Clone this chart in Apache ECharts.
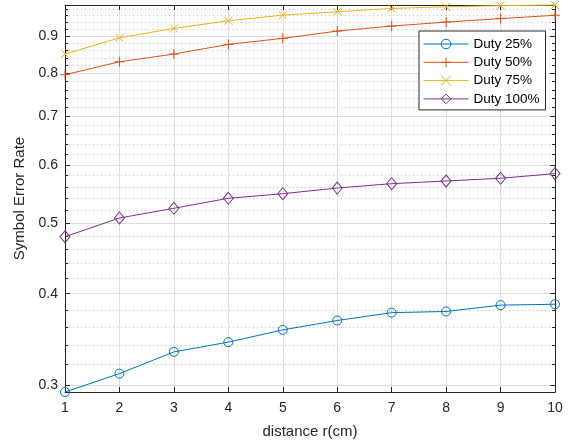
<!DOCTYPE html>
<html><head><meta charset="utf-8">
<script src="https://cdn.jsdelivr.net/npm/echarts@6/dist/echarts.min.js"></script>
<style>html,body{margin:0;padding:0;background:#fff}#c{width:571px;height:445px}</style>
</head><body><div id="c"></div>
<script>
const distances = [1, 2, 3, 4, 5, 6, 7, 8, 9, 10];
const duty25 = [0.2936, 0.3111, 0.3331, 0.3435, 0.3570, 0.3677, 0.3769, 0.3783, 0.3859, 0.3870];
const duty50 = [0.7970, 0.8301, 0.8505, 0.8768, 0.8935, 0.9143, 0.9288, 0.9405, 0.9509, 0.9609];
const duty75 = [0.8505, 0.8952, 0.9221, 0.9444, 0.9614, 0.9715, 0.9819, 0.9869, 0.9905, 0.9925];
const duty100 = [0.4786, 0.5077, 0.5234, 0.5402, 0.5480, 0.5579, 0.5656, 0.5704, 0.5753, 0.5838];
const seriesNames = ['Duty 25%', 'Duty 50%', 'Duty 75%', 'Duty 100%'];
const xTicks = [1, 2, 3, 4, 5, 6, 7, 8, 9, 10];
const yMajorTicks = [0.3, 0.4, 0.5, 0.6, 0.7, 0.8, 0.9];
const yMinorTicks = [0.32, 0.34, 0.36, 0.38, 0.42, 0.44, 0.46, 0.48, 0.52, 0.54, 0.56, 0.58,
  0.62, 0.64, 0.66, 0.68, 0.72, 0.74, 0.76, 0.78, 0.82, 0.84, 0.86, 0.88, 0.92, 0.94, 0.96, 0.98];
const yLimits = [0.2936, 0.9925];

const FONT = 'Liberation Sans, Arial, Helvetica, sans-serif';
const AX = '#262626';
const colors = ['#0072BD', '#D95319', '#EDB120', '#7E2F8E'];
const symbols = ['circle', 'path://M5,0 L5,10 M0,5 L10,5', 'path://M0,0 L10,10 M10,0 L0,10', 'diamond'];
const symbolSizes = [9, 10, 8, [10, 12]];
const allData = [duty25, duty50, duty75, duty100];

const lg = v => Math.log10(v);
const majorVals = yMajorTicks.map(lg);
const minorVals = yMinorTicks.map(lg);

function yAxisDef(pos, vals, len, showLine, showLabel, split) {
  return {
    type: 'value', position: pos, min: lg(yLimits[0]), max: lg(yLimits[1]),
    axisLine: { show: showLine, onZero: false, lineStyle: { color: AX, width: 1 } },
    axisTick: { show: true, inside: true, length: len, customValues: vals, lineStyle: { color: AX, width: 1 } },
    axisLabel: { show: showLabel, customValues: vals, margin: 7, color: AX, fontFamily: FONT, fontSize: 14,
      formatter: v => Math.pow(10, v).toFixed(1) },
    splitLine: split,
    name: showLabel ? 'Symbol Error Rate' : '', nameLocation: 'middle', nameGap: 32,
    nameTextStyle: { color: AX, fontFamily: FONT, fontSize: 15 }
  };
}

const chart = echarts.init(document.getElementById('c'), null, { renderer: 'canvas' });
chart.setOption({
  animation: false,
  backgroundColor: '#fff',
  grid: { left: 65, right: 16, top: 5, bottom: 53, containLabel: false },
  legend: {
    orient: 'vertical', left: 419, top: 31,
    data: seriesNames,
    itemWidth: 45, itemHeight: 12, itemGap: 4.3,
    padding: [6, 6, 4, 4],
    borderColor: AX, borderWidth: 1, backgroundColor: '#fff', borderRadius: 0,
    lineStyle: { width: 1 },
    itemStyle: { borderWidth: 1 },
    textStyle: { color: '#000', fontFamily: FONT, fontSize: 13.5, lineHeight: 14 }
  },
  xAxis: [
    {
      type: 'value', position: 'bottom', min: xTicks[0], max: xTicks[xTicks.length - 1], interval: 1,
      axisLine: { show: true, onZero: false, lineStyle: { color: AX, width: 1 } },
      axisTick: { show: true, inside: true, length: 5, lineStyle: { color: AX } },
      axisLabel: { color: AX, fontFamily: FONT, fontSize: 14, margin: 9 },
      splitLine: { show: true, lineStyle: { color: '#dedede', width: 1 } },
      name: 'distance r(cm)', nameLocation: 'middle', nameGap: 32,
      nameTextStyle: { color: AX, fontFamily: FONT, fontSize: 15 }
    },
    {
      type: 'value', position: 'top', min: xTicks[0], max: xTicks[xTicks.length - 1], interval: 1,
      axisLine: { show: true, onZero: false, lineStyle: { color: AX, width: 1 } },
      axisTick: { show: true, inside: true, length: 5, lineStyle: { color: AX } },
      axisLabel: { show: false }, splitLine: { show: false }
    }
  ],
  yAxis: [
    yAxisDef('left', majorVals, 5, true, true, { show: true, lineStyle: { color: '#dedede', width: 1 } }),
    yAxisDef('left', minorVals, 3, false, false, { show: true, lineStyle: { color: '#c4c4c4', width: 1, type: [1, 3] } }),
    yAxisDef('right', majorVals, 5, true, false, { show: false }),
    yAxisDef('right', minorVals, 3, false, false, { show: false })
  ],
  series: allData.map((vals, k) => ({
    name: seriesNames[k], type: 'line', xAxisIndex: 0, yAxisIndex: 0,
    data: distances.map((x, i) => [x, lg(vals[i])]),
    symbol: symbols[k], symbolSize: symbolSizes[k], showSymbol: true, clip: false,
    lineStyle: { color: colors[k], width: 1 },
    itemStyle: { color: 'transparent', borderColor: colors[k], borderWidth: 1 },
    emphasis: { disabled: true }, z: 10 - k
  }))
});
</script></body></html>
